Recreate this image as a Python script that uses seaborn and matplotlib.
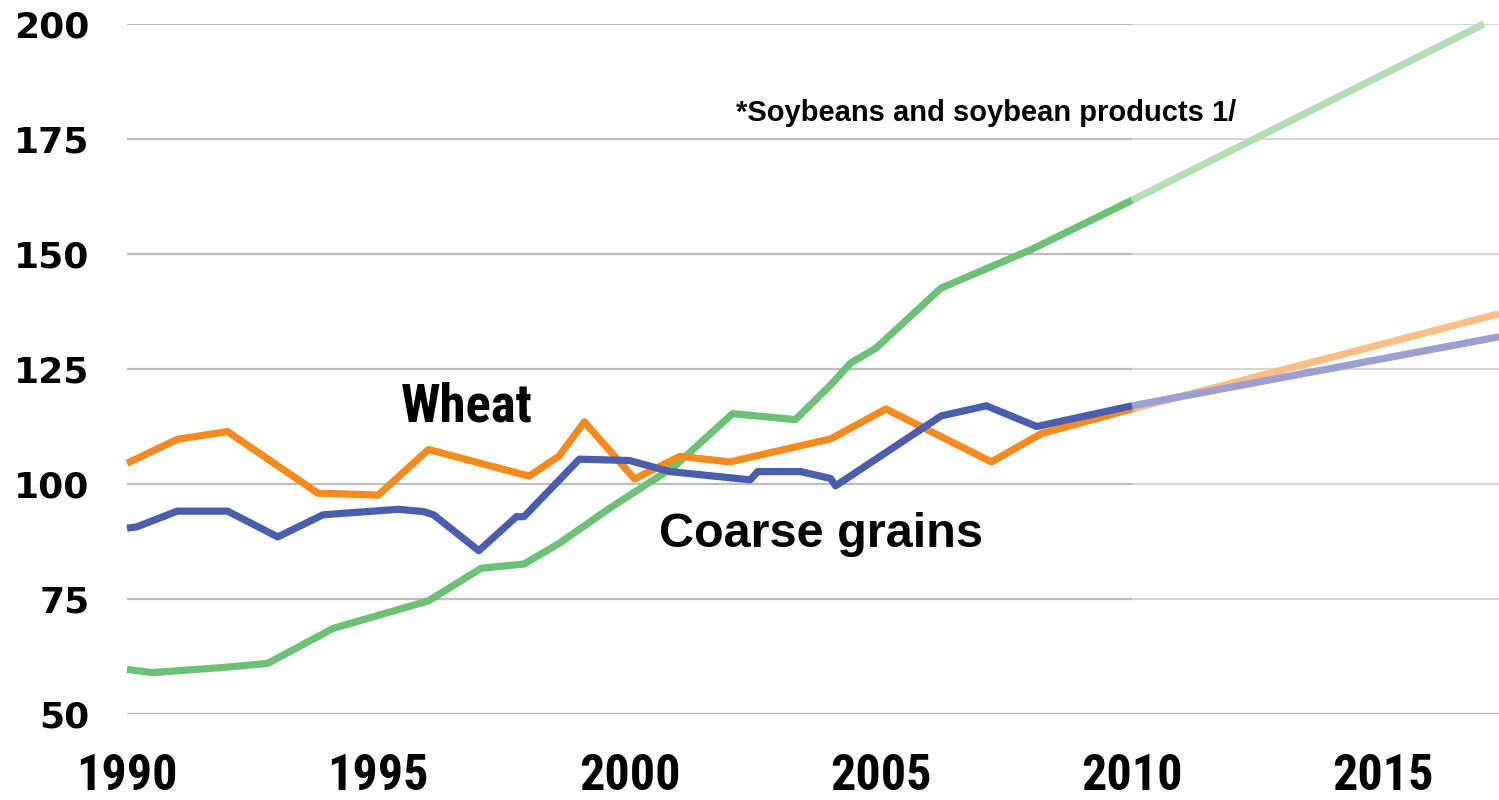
import matplotlib
matplotlib.use("Agg")
import matplotlib.pyplot as plt
from matplotlib import font_manager
import seaborn as sns

# ---------------- data ----------------
wheat_years = [1990, 1991, 1992, 1993.8, 1995, 1996, 1998, 1998.6, 1999.1, 2000.1,
               2001, 2002, 2004, 2005.1, 2007.2, 2008.2, 2010]
wheat_vals = [104.5, 109.7, 111.4, 98.0, 97.6, 107.5, 101.7, 106.1, 113.5, 101.1,
              106.0, 104.8, 109.8, 116.3, 104.8, 111.0, 116.3]
wheat_proj_years = [2010, 2017.3]
wheat_proj_vals = [116.3, 137.0]

coarse_years = [1990, 1990.2, 1991, 1992, 1993, 1993.9, 1995.4, 1995.9, 1996.1, 1997,
                1997.75, 1997.9, 1999, 2000, 2000.8, 2002.4, 2002.55, 2003.4, 2004,
                2004.1, 2006.2, 2007.1, 2008.1, 2010]
coarse_vals = [90.4, 90.7, 94.1, 94.1, 88.5, 93.3, 94.5, 94.0, 93.3, 85.5,
               92.9, 92.9, 105.4, 105.1, 102.7, 100.9, 102.7, 102.7, 101.2,
               99.6, 114.8, 117.0, 112.5, 117.0]
coarse_proj_years = [2010, 2017.3]
coarse_proj_vals = [117.0, 132.0]

soy_years = [1990, 1990.5, 1991.9, 1992.8, 1994.1, 1996, 1997.05, 1997.9, 1998.6,
             1999.6, 2000.9, 2002.05, 2003.3, 2004.0, 2004.4, 2004.9, 2006.2, 2008, 2010]
soy_vals = [59.7, 59.0, 60.1, 61.0, 68.6, 74.6, 81.7, 82.6, 87.1,
            94.7, 103.9, 115.3, 114.0, 121.5, 126.3, 129.5, 142.6, 151.0, 161.7]
soy_proj_years = [2010, 2017]
soy_proj_vals = [161.7, 200.0]

y_ticks = [50, 75, 100, 125, 150, 175, 200]
x_ticks = [1990, 1995, 2000, 2005, 2010, 2015]
x_labels = ["1990", "1995", "2000", "2005", "2010", "2015"]

# ---------------- fonts ----------------
def pick(names):
    for n in names:
        try:
            font_manager.findfont(font_manager.FontProperties(family=n, weight="bold"),
                                  fallback_to_default=False)
            return n
        except Exception:
            continue
    return "DejaVu Sans"

narrow = pick(["Liberation Sans Narrow", "DejaVu Sans Condensed", "Roboto Condensed",
               "Liberation Sans"])
arial = pick(["Liberation Sans", "Arial", "DejaVu Sans"])
wide = pick(["DejaVu Sans"])

sns.set_theme(style="white")
plt.rcParams["font.family"] = [arial, "DejaVu Sans"]

fig = plt.figure(figsize=(14.99, 8.0), dpi=100)
ax = fig.add_axes([127 / 1499, 1 - 714 / 800, 1 - 127 / 1499, (714 - 24) / 800])

XMAX = 2017.3
ax.set_xlim(1990, XMAX)
ax.set_ylim(50, 200)

# gridlines: darker over history, lighter over projection
for yv in y_ticks:
    ax.hlines(yv, 1990, 2010, color="#BDBDBD", lw=1.6, zorder=0)
    ax.hlines(yv, 2010, XMAX, color="#BDBDBD" if yv == 50 else "#D6D6D6", lw=1.6, zorder=0)

orange, orange_l = "#F58A1F", "#FBBE86"
blue, blue_l = "#4A5EAD", "#9B9FD1"
green, green_l = "#6CC176", "#B5DDB4"
LW = 5.2

def draw(xs, ys, color, z):
    sns.lineplot(x=xs, y=ys, color=color, linewidth=LW, ax=ax, estimator=None,
                 sort=False, legend=False, zorder=z)

draw(soy_proj_years, soy_proj_vals, green_l, 2)
draw(wheat_proj_years, wheat_proj_vals, orange_l, 2)
draw(coarse_proj_years, coarse_proj_vals, blue_l, 3)
draw(soy_years, soy_vals, green, 4)
draw(wheat_years, wheat_vals, orange, 5)
draw(coarse_years, coarse_vals, blue, 6)
for ln in ax.get_lines():
    ln.set_solid_joinstyle("round")
    ln.set_solid_capstyle("butt")
    ln.set_clip_on(False)

# annotations
ax.text(1996.75, 113.5, "Wheat", ha="center", va="baseline", fontsize=38,
        fontweight="bold", family=[narrow, "DejaVu Sans"], color="black")
ax.text(2003.8, 86.3, "Coarse grains", ha="center", va="baseline", fontsize=35,
        fontweight="bold", family=[arial, "DejaVu Sans"], color="black")
ax.text(2012.07, 179.0, "*Soybeans and soybean products 1/", ha="right", va="baseline",
        fontsize=21, fontweight="bold", family=[arial, "DejaVu Sans"], color="black")

ax.set_yticks(y_ticks)
ax.set_yticklabels([str(v) for v in y_ticks], fontsize=26, fontweight="bold",
                   family=[wide])
ax.set_xticks(x_ticks)
ax.set_xticklabels(x_labels, fontsize=36, fontweight="bold", family=[narrow, "DejaVu Sans"])
ax.tick_params(axis="y", length=0, pad=27, colors="black")
ax.tick_params(axis="x", length=0, pad=28, colors="black")
ax.grid(False)
for s in ax.spines.values():
    s.set_visible(False)
ax.set_xlabel("")
ax.set_ylabel("")

fig.savefig("out.png", dpi=100, facecolor="white")
